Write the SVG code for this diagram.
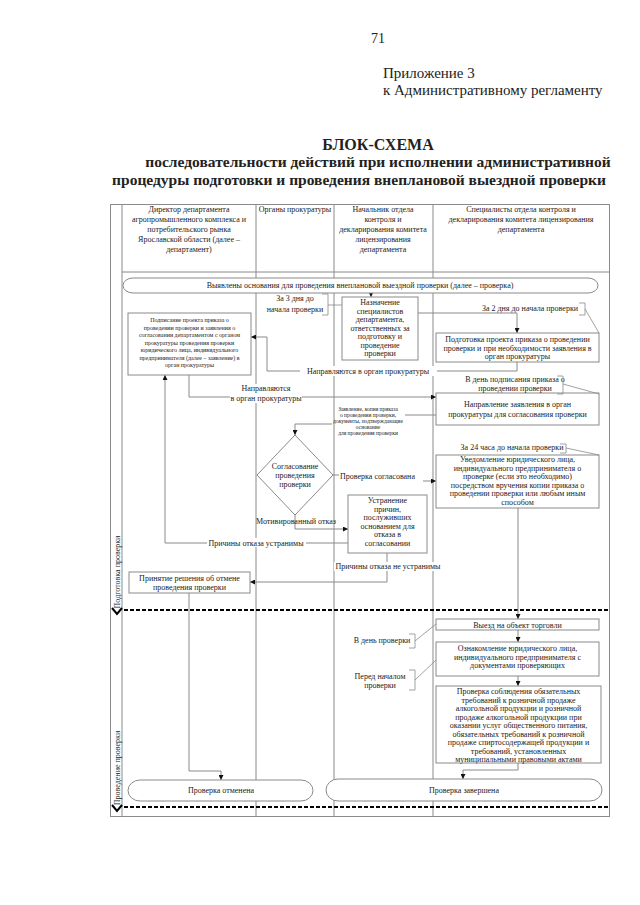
<svg xmlns="http://www.w3.org/2000/svg" width="640" height="905" viewBox="0 0 640 905">
<defs>
<style>
.t{font-family:"Liberation Serif","Times New Roman",serif;fill:#222;}
.s8{font-size:8px;}
.s6{font-size:6px;}
.s55{font-size:5.5px;}
.c{text-anchor:middle;}
.ln{fill:none;stroke:#8a8a8a;stroke-width:1;}
.bx{fill:#fff;stroke:#8a8a8a;stroke-width:1;}
.an{fill:none;stroke:#8a8a8a;stroke-width:0.8;}
.dash{fill:none;stroke:#000;stroke-width:2;stroke-dasharray:4,2;}
.chev{fill:none;stroke:#000;stroke-width:2;}
.bg{fill:#fff;}
</style>
<marker id="ar" viewBox="0 0 8 8" refX="8" refY="4" markerWidth="5" markerHeight="5" orient="auto" markerUnits="userSpaceOnUse">
<path d="M0,0 L8,4 L0,8 z" fill="#111"/>
</marker>
</defs>
<rect width="640" height="905" fill="#fff"/>

<g id="page-header">
<text class="t c" x="378" y="43" font-size="14">71</text>
<text class="t" x="383" y="78" font-size="15">Приложение 3</text>
<text class="t" x="383" y="95" font-size="15">к Административному регламенту</text>
<text class="t c" x="378" y="150" font-size="16" font-weight="bold">БЛОК-СХЕМА</text>
<text class="t c" x="378" y="167" font-size="15.5" font-weight="bold">последовательности действий при исполнении административной</text>
<text class="t c" x="359" y="185" font-size="15.5" font-weight="bold">процедуры подготовки и проведения внеплановой выездной проверки</text>
</g>

<g id="frame">
<rect x="110.5" y="204.5" width="499" height="612" fill="none" stroke="#8a8a8a"/>
<line class="ln" x1="122" y1="204" x2="122" y2="817"/>
<line class="ln" x1="122" y1="272" x2="609" y2="272"/>
<line class="ln" x1="256" y1="204" x2="256" y2="817"/>
<line class="ln" x1="334" y1="204" x2="334" y2="817"/>
<line class="ln" x1="433" y1="204" x2="433" y2="817"/>
</g>

<g id="lane-headers">
<text class="t s8 c" x="189" y="212">Директор департамента</text>
<text class="t s8 c" x="189" y="222">агропромышленного комплекса и</text>
<text class="t s8 c" x="189" y="232">потребительского рынка</text>
<text class="t s8 c" x="189" y="242">Ярославской области (далее –</text>
<text class="t s8 c" x="189" y="252">департамент)</text>
<text class="t s8 c" x="295" y="212">Органы прокуратуры</text>
<text class="t s8 c" x="383" y="212">Начальник отдела</text>
<text class="t s8 c" x="383" y="222">контроля и</text>
<text class="t s8 c" x="383" y="232">декларирования комитета</text>
<text class="t s8 c" x="383" y="242">лицензирования</text>
<text class="t s8 c" x="383" y="252">департамента</text>
<text class="t s8 c" x="521" y="212">Специалисты отдела контроля и</text>
<text class="t s8 c" x="521" y="222">декларирования комитета лицензирования</text>
<text class="t s8 c" x="521" y="232">департамента</text>
</g>

<g id="phases">
<text class="t s8 c" transform="translate(120,572) rotate(-90)">Подготовка проверки</text>
<text class="t s8 c" transform="translate(120,768) rotate(-90)">Проведение проверки</text>
<line class="dash" x1="124" y1="610" x2="609" y2="610"/>
<path class="chev" d="M112,608 L117,614 L122,608"/>
<line class="dash" x1="124" y1="807" x2="609" y2="807"/>
<path class="chev" d="M112,805 L117,811 L122,805"/>
</g>

<g id="connectors">
<line class="ln" x1="371" y1="293" x2="371" y2="297" marker-end="url(#ar)"/>
<path class="ln" d="M418,313 H517 V333" marker-end="url(#ar)"/>
<path class="ln" d="M517,362 V371 H267 V337 H251" marker-end="url(#ar)"/>
<path class="ln" d="M189,375 V397 H436" marker-end="url(#ar)"/>
<path class="ln" d="M436,415 H405"/>
<path class="ln" d="M332,424 H295 V435" marker-end="url(#ar)"/>
<path class="ln" d="M333,475 H339"/>
<path class="ln" d="M423,481 H436" marker-end="url(#ar)"/>
<path class="ln" d="M295,515 V529 H348" marker-end="url(#ar)"/>
<path class="ln" d="M348,543 H165 V375" marker-end="url(#ar)"/>
<path class="ln" d="M387,553 V582 H250" marker-end="url(#ar)"/>
<path class="ln" d="M189,593 V771 H221 V780" marker-end="url(#ar)"/>
<line class="ln" x1="518" y1="508" x2="518" y2="619" marker-end="url(#ar)"/>
<line class="ln" x1="518" y1="630" x2="518" y2="642" marker-end="url(#ar)"/>
<line class="ln" x1="518" y1="676" x2="518" y2="686" marker-end="url(#ar)"/>
<path class="ln" d="M518,763 V770 H463 V779" marker-end="url(#ar)"/>
</g>

<g id="connector-labels">
<rect class="bg" x="300" y="366" width="137" height="10"/>
<text class="t s8 c" x="368" y="374">Направляются в орган прокуратуры</text>
<rect class="bg" x="230" y="384" width="72" height="19"/>
<text class="t s8 c" x="266" y="391">Направляются</text>
<text class="t s8 c" x="266" y="401">в орган прокуратуры</text>
<text class="t s55 c" x="368" y="411">Заявление, копия приказа</text>
<text class="t s55 c" x="368" y="417">о проведении проверки,</text>
<text class="t s55 c" x="368" y="423">документы, подтверждающие</text>
<text class="t s55 c" x="368" y="429">основание</text>
<text class="t s55 c" x="368" y="435">для проведения проверки</text>
<text class="t s8" x="340" y="479">Проверка согласована</text>
<text class="t s8 c" x="296" y="524">Мотивированный отказ</text>
<rect class="bg" x="207" y="538" width="99" height="9"/>
<text class="t s8 c" x="256" y="546">Причины отказа устранимы</text>
<rect class="bg" x="334" y="562" width="108" height="9"/>
<text class="t s8 c" x="388" y="569">Причины отказа не устранимы</text>
</g>

<g id="n-start">
<rect class="bx" x="123" y="278" width="475" height="15" rx="10" ry="7.5"/>
<text class="t s8 c" x="360" y="288">Выявлены основания для проведения внеплановой выездной проверки (далее – проверка)</text>
</g>

<g id="n-assign">
<rect class="bx" x="342" y="297" width="76" height="63"/>
<text class="t s8 c" x="380" y="305">Назначение</text>
<text class="t s8 c" x="380" y="313.5">специалистов</text>
<text class="t s8 c" x="380" y="322">департамента,</text>
<text class="t s8 c" x="380" y="330.5">ответственных за</text>
<text class="t s8 c" x="380" y="339">подготовку и</text>
<text class="t s8 c" x="380" y="347.5">проведение</text>
<text class="t s8 c" x="380" y="356">проверки</text>
</g>

<g id="n-sign">
<rect class="bx" x="128" y="313" width="123" height="62"/>
<text class="t s6 c" x="189.5" y="322">Подписание проекта приказа о</text>
<text class="t s6 c" x="189.5" y="329.5">проведении проверки и заявления о</text>
<text class="t s6 c" x="189.5" y="337">согласовании департаментом с органом</text>
<text class="t s6 c" x="189.5" y="344.5">прокуратуры проведения проверки</text>
<text class="t s6 c" x="189.5" y="352">юридического лица, индивидуального</text>
<text class="t s6 c" x="189.5" y="359.5">предпринимателя (далее – заявление) в</text>
<text class="t s6 c" x="189.5" y="367">орган прокуратуры</text>
</g>

<g id="n-prepare">
<rect class="bx" x="436" y="333" width="163" height="29"/>
<text class="t s8 c" x="517.5" y="342">Подготовка проекта приказа о проведении</text>
<text class="t s8 c" x="517.5" y="350.5">проверки и при необходимости заявления в</text>
<text class="t s8 c" x="517.5" y="359">орган прокуратуры</text>
</g>

<g id="n-send">
<rect class="bx" x="436" y="393" width="163" height="32"/>
<text class="t s8 c" x="517.5" y="407">Направление заявления в орган</text>
<text class="t s8 c" x="517.5" y="416.5">прокуратуры для согласования проверки</text>
</g>

<g id="n-approve">
<polygon class="bx" points="295,435 333,475 295,515 257,475"/>
<text class="t s8 c" x="295" y="469">Согласование</text>
<text class="t s8 c" x="295" y="478">проведения</text>
<text class="t s8 c" x="295" y="487">проверки</text>
</g>

<g id="n-notify">
<rect class="bx" x="436" y="455" width="163" height="53"/>
<text class="t s8 c" x="517.5" y="462">Уведомление юридического лица,</text>
<text class="t s8 c" x="517.5" y="470.5">индивидуального предпринимателя о</text>
<text class="t s8 c" x="517.5" y="479">проверке (если это необходимо)</text>
<text class="t s8 c" x="517.5" y="487.5">посредством вручения копии приказа о</text>
<text class="t s8 c" x="517.5" y="496">проведении проверки или любым иным</text>
<text class="t s8 c" x="517.5" y="504.5">способом</text>
</g>

<g id="n-fix">
<rect class="bx" x="348" y="495" width="79" height="58"/>
<text class="t s8 c" x="387.5" y="503">Устранение</text>
<text class="t s8 c" x="387.5" y="511.5">причин,</text>
<text class="t s8 c" x="387.5" y="520">послуживших</text>
<text class="t s8 c" x="387.5" y="528.5">основанием для</text>
<text class="t s8 c" x="387.5" y="537">отказа в</text>
<text class="t s8 c" x="387.5" y="545.5">согласовании</text>
</g>

<g id="n-cancel-decision">
<rect class="bx" x="129" y="572" width="121" height="21"/>
<text class="t s8 c" x="189.5" y="580.5">Принятие решения об отмене</text>
<text class="t s8 c" x="189.5" y="589.5">проведения проверки</text>
</g>

<g id="n-visit">
<rect class="bx" x="436" y="619" width="163" height="11"/>
<text class="t s8 c" x="517.5" y="627.5">Выезд на объект торговли</text>
</g>

<g id="n-acquaint">
<rect class="bx" x="436" y="642" width="163" height="34"/>
<text class="t s8 c" x="517.5" y="651">Ознакомление юридического лица,</text>
<text class="t s8 c" x="517.5" y="659.5">индивидуального предпринимателя с</text>
<text class="t s8 c" x="517.5" y="668">документами проверяющих</text>
</g>

<g id="n-check">
<rect class="bx" x="436" y="686" width="165" height="77"/>
<text class="t s8 c" x="518.5" y="694">Проверка соблюдения обязательных</text>
<text class="t s8 c" x="518.5" y="702.5">требований к розничной продаже</text>
<text class="t s8 c" x="518.5" y="711">алкогольной продукции и розничной</text>
<text class="t s8 c" x="518.5" y="719.5">продаже алкогольной продукции при</text>
<text class="t s8 c" x="518.5" y="728">оказании услуг общественного питания,</text>
<text class="t s8 c" x="518.5" y="736.5">обязательных требований к розничной</text>
<text class="t s8 c" x="518.5" y="745">продаже спиртосодержащей продукции и</text>
<text class="t s8 c" x="518.5" y="753.5">требований, установленных</text>
<text class="t s8 c" x="518.5" y="762">муниципальными правовыми актами</text>
</g>

<g id="n-cancelled">
<rect class="bx" x="128" y="780" width="185" height="21" rx="12" ry="10.5"/>
<text class="t s8 c" x="221" y="793">Проверка отменена</text>
</g>

<g id="n-done">
<rect class="bx" x="326" y="779" width="276" height="22" rx="12" ry="11"/>
<text class="t s8 c" x="464" y="793">Проверка завершена</text>
</g>

<g id="annotations">
<text class="t s8 c" x="295" y="301">За 3 дня до</text>
<text class="t s8 c" x="295" y="312">начала проверки</text>
<path class="an" d="M322,294 H328 V315 H322 M328,305 H342"/>
<text class="t s8 c" x="530" y="311">За 2 дня до начала проверки</text>
<path class="an" d="M579,303 H585 V315 H579 M585,309 L599,333"/>
<text class="t s8 c" x="515" y="382">В день подписания приказа о</text>
<text class="t s8 c" x="515" y="391">проведении проверки</text>
<path class="an" d="M557,376 H563 V394 H557 M563,384 L599,394"/>
<text class="t s8 c" x="512" y="450">За 24 часа до начала проверки</text>
<path class="an" d="M560,444 H566 V453 H560 M566,448 L599,455"/>
<text class="t s8 c" x="382" y="643">В день проверки</text>
<path class="an" d="M409,634 H415 V648 H409 M415,641 L436,624"/>
<text class="t s8 c" x="380" y="679">Перед началом</text>
<text class="t s8 c" x="380" y="688">проверки</text>
<path class="an" d="M409,670 H415 V690 H409 M415,680 L436,660"/>
</g>
</svg>
